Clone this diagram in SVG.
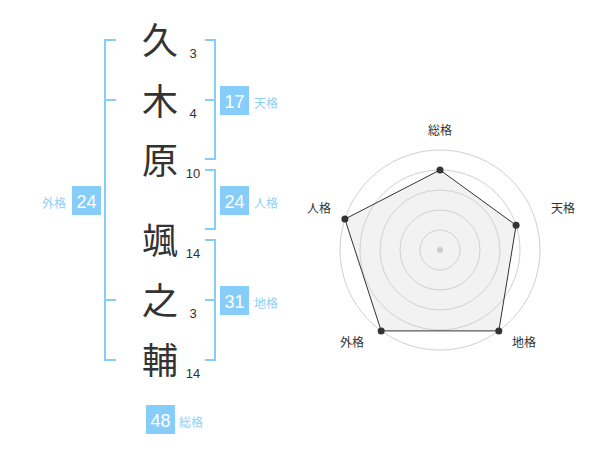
<svg xmlns="http://www.w3.org/2000/svg" width="600" height="470" viewBox="0 0 600 470">
<style>
.ch{font-family:"Noto Sans CJK JP","Noto Sans CJK SC",sans-serif;font-size:36px;fill:#333;text-anchor:middle}
.num{font-family:"Liberation Sans",Arial,sans-serif;font-size:13px;fill:#333;text-anchor:middle}
.box{fill:#87cdf9}
.bn{font-family:"Liberation Sans",Arial,sans-serif;font-size:18px;fill:#fff;text-anchor:middle}
.bl{font-family:"Noto Sans CJK JP","Noto Sans CJK SC",sans-serif;font-size:12px;fill:#8fd0f7}
.br{fill:none;stroke:#87cdf9;stroke-width:2}
.ring{fill:none;stroke:#d0d0d0;stroke-width:1}
.rl{font-family:"Noto Sans CJK JP","Noto Sans CJK SC",sans-serif;font-size:12px;fill:#333;text-anchor:middle}
.pt{fill:#333}
</style>
<rect width="600" height="470" fill="#fff"/>
<g id="chars">
<text class="ch" x="160" y="53.5">久</text>
<text class="ch" x="160" y="114.5">木</text>
<text class="ch" x="160" y="173.5">原</text>
<text class="ch" x="160" y="253.5">颯</text>
<text class="ch" x="160" y="313.5">之</text>
<text class="ch" x="160" y="373.5">輔</text>
</g>
<g id="strokes">
<text class="num" x="193" y="57.5">3</text>
<text class="num" x="193" y="118">4</text>
<text class="num" x="193" y="178">10</text>
<text class="num" x="193" y="258">14</text>
<text class="num" x="193" y="318">3</text>
<text class="num" x="193" y="378">14</text>
</g>
<g id="brackets">
<path class="br" d="M116,40 H105 V360 H116 M105,100 H116 M105,300 H116"/>
<path class="br" d="M205,40 H215 V159 H205 M205,100 H215"/>
<path class="br" d="M205,170 H215 V229 H205"/>
<path class="br" d="M205,240 H215 V360 H205 M205,300 H215"/>
</g>
<g id="tenkaku">
<rect class="box" x="220" y="86" width="29" height="29"/>
<text class="bn" x="234.5" y="108">17</text>
<text class="bl" x="254" y="108">天格</text>
</g>
<g id="jinkaku">
<rect class="box" x="220" y="186" width="29" height="29"/>
<text class="bn" x="234.5" y="208">24</text>
<text class="bl" x="254" y="208">人格</text>
</g>
<g id="chikaku">
<rect class="box" x="220" y="286" width="29" height="29"/>
<text class="bn" x="234.5" y="308">31</text>
<text class="bl" x="254" y="308">地格</text>
</g>
<g id="gaikaku">
<rect class="box" x="72" y="186" width="29" height="29"/>
<text class="bn" x="86.5" y="208">24</text>
<text class="bl" x="66" y="208" text-anchor="end">外格</text>
</g>
<g id="soukaku">
<rect class="box" x="146" y="405" width="29" height="29"/>
<text class="bn" x="160.5" y="427">48</text>
<text class="bl" x="179" y="427">総格</text>
</g>
<g id="radar">
<polygon points="440,170 516.1,225.3 498.8,330.9 381.2,330.9 344.9,219.1" fill="#f2f2f2" stroke="none"/>
<circle class="ring" cx="440" cy="250" r="20"/>
<circle class="ring" cx="440" cy="250" r="40"/>
<circle class="ring" cx="440" cy="250" r="60"/>
<circle class="ring" cx="440" cy="250" r="80"/>
<circle class="ring" cx="440" cy="250" r="100"/>
<circle cx="440" cy="250" r="3" fill="#ccc"/>
<polygon points="440,170 516.1,225.3 498.8,330.9 381.2,330.9 344.9,219.1" fill="none" stroke="#333" stroke-width="1"/>
<circle class="pt" cx="440" cy="170" r="3.5"/>
<circle class="pt" cx="516.1" cy="225.3" r="3.5"/>
<circle class="pt" cx="498.8" cy="330.9" r="3.5"/>
<circle class="pt" cx="381.2" cy="330.9" r="3.5"/>
<circle class="pt" cx="344.9" cy="219.1" r="3.5"/>
<text class="rl" x="440" y="135">総格</text>
<text class="rl" x="563" y="212.5">天格</text>
<text class="rl" x="319" y="212.5">人格</text>
<text class="rl" x="352" y="346.5">外格</text>
<text class="rl" x="524" y="346.5">地格</text>
</g>
</svg>
